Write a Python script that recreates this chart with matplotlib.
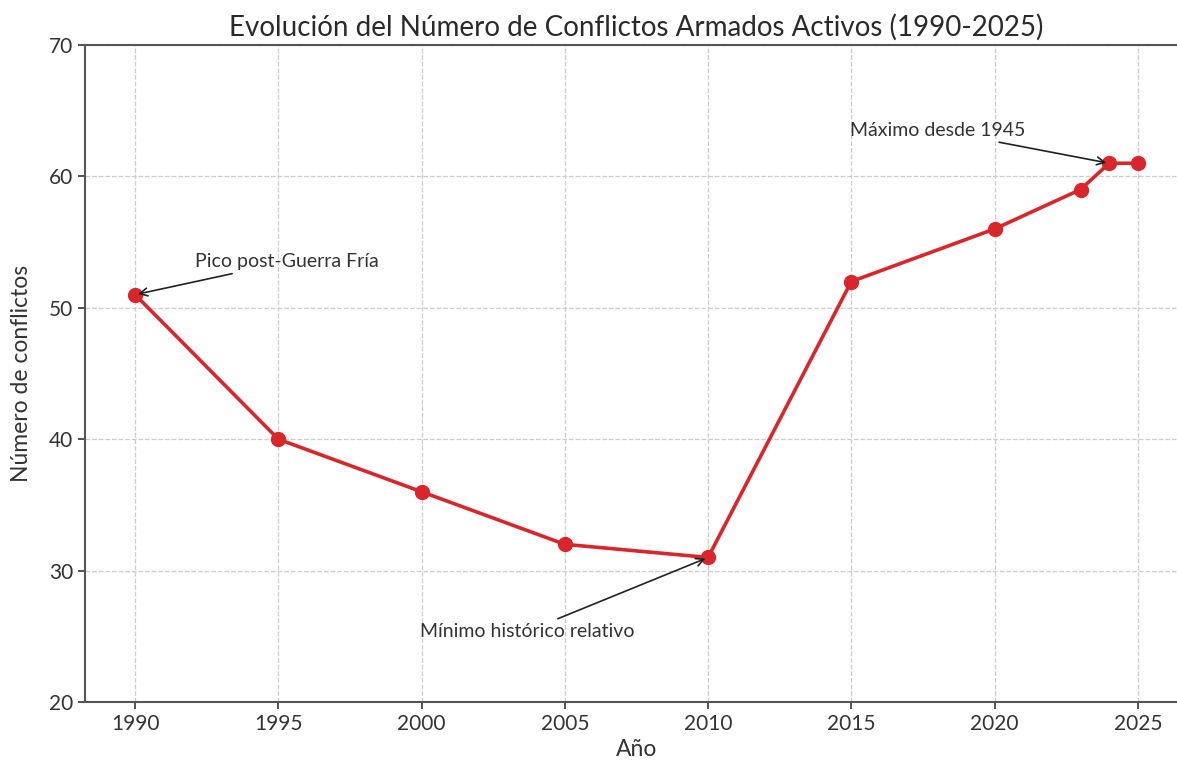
import matplotlib
matplotlib.use("Agg")
import matplotlib.pyplot as plt

plt.rcParams['font.family'] = ['Lato', 'DejaVu Sans']

years = [1990, 1995, 2000, 2005, 2010, 2015, 2020, 2023, 2024, 2025]
conflicts = [51, 40, 36, 32, 31, 52, 56, 59, 61, 61]
xticks = [1990, 1995, 2000, 2005, 2010, 2015, 2020, 2025]
yticks = [20, 30, 40, 50, 60, 70]

fig = plt.figure(figsize=(11.77, 7.69), dpi=100)
ax = fig.add_axes([0.0722, 0.0871, 0.9371, 0.8544])

ax.plot(years, conflicts, color='#d9262b', lw=2.6, marker='o', markersize=10, zorder=3)

ax.set_xlim(1988.25, 2026.75)
ax.set_ylim(20, 70)
ax.set_xticks(xticks)
ax.set_yticks(yticks)
ax.tick_params(labelsize=15, colors='#333333', length=5, width=1.2)
ax.grid(True, linestyle='--', color='#cccccc', lw=0.9)
for s in ['left', 'top', 'bottom', 'right']:
    ax.spines[s].set_color('#555555')
    ax.spines[s].set_linewidth(1.5)

ax.set_title('Evolución del Número de Conflictos Armados Activos (1990-2025)',
             fontsize=20, color='#2a2a2a', pad=7)
ax.set_xlabel('Año', fontsize=16.5, color='#333333', labelpad=4)
ax.set_ylabel('Número de conflictos', fontsize=16.5, color='#333333', labelpad=12)

arrow = dict(arrowstyle='->', color='#222222', lw=1.2)
ax.annotate('Pico post-Guerra Fría', xy=(1990, 51), xytext=(1995.3, 53.5),
            ha='center', va='center', fontsize=14, color='#333333', arrowprops=arrow)
ax.annotate('Mínimo histórico relativo', xy=(2010, 31), xytext=(2003.7, 25.4),
            ha='center', va='center', fontsize=14, color='#333333', arrowprops=arrow)
ax.annotate('Máximo desde 1945', xy=(2024, 61), xytext=(2018.0, 63.5),
            ha='center', va='center', fontsize=14, color='#333333', arrowprops=arrow)

fig.savefig('out.png', dpi=100)
